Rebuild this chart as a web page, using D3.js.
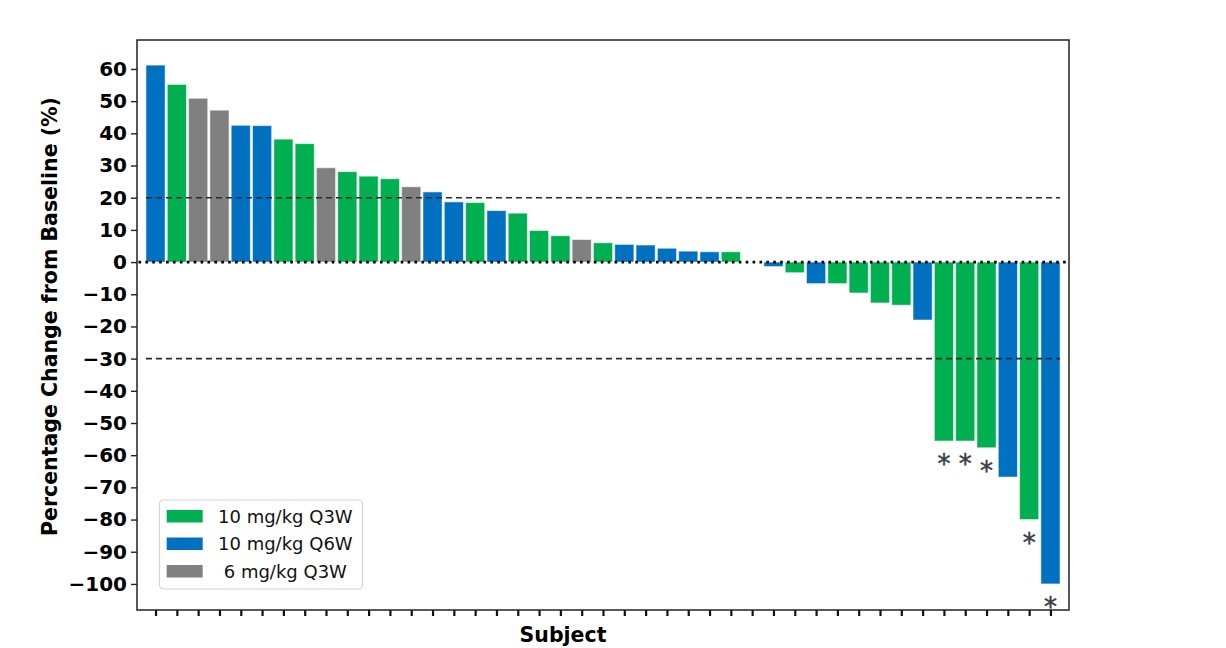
<!DOCTYPE html>
<html><head><meta charset="utf-8">
<script src="https://cdn.jsdelivr.net/npm/d3@7"></script>
<style>body{margin:0;background:#fff}svg{display:block}text{font-family:"DejaVu Sans",sans-serif}</style>
</head><body><svg id="c" width="1226" height="648"></svg>
<script>
const subjects = d3.range(1, 44);
const values = [61.2, 55.2, 50.9, 47.2, 42.5, 42.4, 38.2, 36.8, 29.3, 28.1, 26.7, 25.9, 23.4, 21.8, 18.7, 18.5, 16.0, 15.2, 9.8, 8.2, 7.0, 6.0, 5.5, 5.3, 4.3, 3.4, 3.2, 3.2, 0, -1.4, -3.3, -6.7, -6.7, -9.6, -12.7, -13.4, -18.0, -55.6, -55.6, -57.7, -66.8, -80.0, -100.0];
const groups = ["Q6W","Q3W","6Q3W","6Q3W","Q6W","Q6W","Q3W","Q3W","6Q3W","Q3W","Q3W","Q3W","6Q3W","Q6W","Q6W","Q3W","Q6W","Q3W","Q3W","Q3W","6Q3W","Q3W","Q6W","Q6W","Q6W","Q6W","Q6W","Q3W","Q3W","Q6W","Q3W","Q6W","Q3W","Q3W","Q3W","Q3W","Q6W","Q3W","Q3W","Q3W","Q6W","Q3W","Q6W"];
const starred = [38, 39, 40, 42, 43];
const legendKeys = ["Q3W", "Q6W", "6Q3W"];
const legendLabels = ["10 mg/kg Q3W", "10 mg/kg Q6W", " 6 mg/kg Q3W"];
const colors = ["#00b050", "#0070c0", "#808080"];
const yTicks = d3.range(-100, 61, 10);
const refLines = [20, -30];

const svg = d3.select("#c");
const L = 137, R = 1069, T = 40, B = 610;
const x = d3.scaleLinear().domain([0.13, 43.87]).range([L, R]);
const y = d3.scaleLinear().domain([-108.1, 69.0]).range([B, T]);
const color = d3.scaleOrdinal().domain(legendKeys).range(colors);
const bw = x(1.9) - x(1);

// bars
svg.append("g").selectAll("rect").data(subjects).join("rect")
  .attr("x", d => x(d) - bw / 2)
  .attr("width", bw)
  .attr("y", (d, i) => y(Math.max(0, values[i])))
  .attr("height", (d, i) => Math.abs(y(values[i]) - y(0)))
  .attr("fill", (d, i) => color(groups[i]))
  .attr("stroke", "#ffffff").attr("stroke-opacity", 0.55).attr("stroke-width", 1)
  .style("display", (d, i) => values[i] === 0 ? "none" : null);

// reference lines
svg.append("g").selectAll("line").data(refLines).join("line")
  .attr("x1", x(0.55)).attr("x2", x(43.45))
  .attr("y1", d => y(d)).attr("y2", d => y(d))
  .attr("stroke", "#2a2a2a").attr("stroke-width", 1.6).attr("stroke-dasharray", "6,4");
svg.append("line")
  .attr("x1", x(0.2)).attr("x2", R)
  .attr("y1", y(0)).attr("y2", y(0))
  .attr("stroke", "#000").attr("stroke-width", 2.6).attr("stroke-dasharray", "2.6,4.3");

// asterisks
svg.append("g").selectAll("text").data(starred).join("text")
  .attr("x", d => x(d))
  .attr("y", d => y(values[d - 1]) + 32)
  .attr("text-anchor", "middle")
  .attr("font-size", 26)
  .attr("fill", "#383d43")
  .attr("stroke", "#383d43").attr("stroke-width", 0.5)
  .text("*");

// axes
const yAxis = d3.axisLeft(y).tickValues(yTicks).tickSize(6).tickPadding(4).tickFormat(d3.format("d"));
const gy = svg.append("g").attr("transform", `translate(${L},0)`).call(yAxis);
gy.select(".domain").remove();
gy.selectAll("text").attr("font-size", 20).attr("font-weight", "bold").attr("fill", "#000").style("font-family", "DejaVu Sans");
gy.selectAll("line").attr("stroke", "#222").attr("stroke-width", 1.4);

const xAxis = d3.axisBottom(x).tickValues(subjects).tickSize(6).tickFormat("");
const gx = svg.append("g").attr("transform", `translate(0,${B})`).call(xAxis);
gx.select(".domain").remove();
gx.selectAll("line").attr("stroke", "#111").attr("stroke-width", 2.2);

// frame
svg.append("rect").attr("x", L).attr("y", T).attr("width", R - L).attr("height", B - T)
  .attr("fill", "none").attr("stroke", "#222").attr("stroke-width", 1.5);

// labels
svg.append("text").attr("transform", "translate(57,316.5) rotate(-90)")
  .attr("text-anchor", "middle").attr("font-size", 20.5).attr("font-weight", "bold")
  .text("Percentage Change from Baseline (%)");
svg.append("text").attr("x", 563).attr("y", 642)
  .attr("text-anchor", "middle").attr("font-size", 20.5).attr("font-weight", "bold")
  .text("Subject");

// legend
const lg = svg.append("g");
lg.append("rect").attr("x", 159.5).attr("y", 500).attr("width", 203).attr("height", 89)
  .attr("rx", 4).attr("fill", "#fff").attr("fill-opacity", 0.8).attr("stroke", "#d4d4d4").attr("stroke-width", 1.2);
legendKeys.forEach((k, i) => {
  lg.append("rect").attr("x", 166.7).attr("y", 510 + i * 27.5).attr("width", 36).attr("height", 12.5).attr("fill", color(k));
  lg.append("text").attr("x", 218).attr("y", 522.5 + i * 27.5).attr("font-size", 18)
    .style("white-space", "pre").attr("fill", "#111").text(legendLabels[i]);
});
</script></body></html>
